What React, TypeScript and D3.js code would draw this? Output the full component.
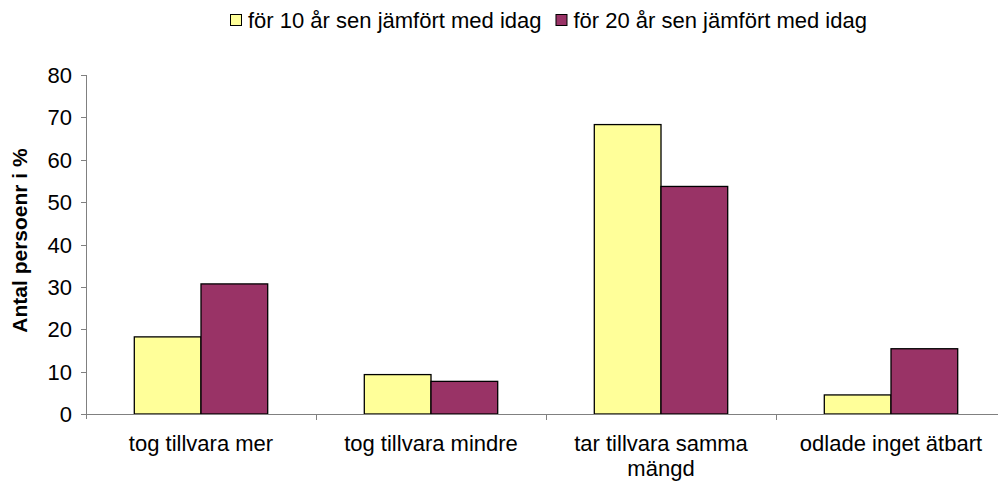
import React, { useEffect, useRef } from 'react';
import * as d3 from 'd3';

const categories = ['tog tillvara mer', 'tog tillvara mindre', 'tar tillvara samma mängd', 'odlade inget ätbart'];
const seriesNames = ['för 10 år sen jämfört med idag', 'för 20 år sen jämfört med idag'];
const tioAr = [18.2, 9.3, 68.3, 4.5];
const tjugoAr = [30.7, 7.7, 53.7, 15.4];
const yTicks = [0, 10, 20, 30, 40, 50, 60, 70, 80];
const colors = ['#FFFF99', '#993366'];

export default function App() {
  const ref = useRef<SVGSVGElement>(null);

  useEffect(() => {
    const svg = d3.select(ref.current);
    svg.selectAll('*').remove();
    const font = 'Liberation Sans, Arial, sans-serif';
    const fs = 22;

    const left = 86, top = 75, bottom = 414, right = 1006;
    const x = d3.scaleBand().domain(categories).range([left, right]).paddingInner(0.42).paddingOuter(0.21);
    const y = d3.scaleLinear().domain([0, 80]).range([bottom, top]);
    const inner = d3.scaleBand().domain(['0', '1']).range([0, x.bandwidth()]);
    const step = (right - left) / categories.length;

    const data = [tioAr, tjugoAr];
    const g = svg.append('g');

    data.forEach((vals, si) => {
      g.selectAll('.s' + si)
        .data(vals)
        .enter().append('rect')
        .attr('x', (d, i) => (x(categories[i]) as number) + (inner(String(si)) as number))
        .attr('y', d => y(d))
        .attr('width', inner.bandwidth())
        .attr('height', d => bottom - y(d))
        .attr('fill', colors[si])
        .attr('stroke', '#000')
        .attr('stroke-width', 1.3);
    });

    // axes
    g.append('line').attr('x1', left).attr('x2', right).attr('y1', bottom + 0.5).attr('y2', bottom + 0.5)
      .attr('stroke', '#808080').attr('stroke-width', 1);
    g.append('line').attr('x1', left + 0.5).attr('x2', left + 0.5).attr('y1', top).attr('y2', bottom + 5)
      .attr('stroke', '#808080').attr('stroke-width', 1);

    yTicks.forEach(t => {
      g.append('line').attr('x1', left - 5).attr('x2', left).attr('y1', Math.round(y(t)) + 0.5).attr('y2', Math.round(y(t)) + 0.5)
        .attr('stroke', '#808080');
      g.append('text').attr('x', left - 14).attr('y', y(t) + 8).attr('text-anchor', 'end')
        .attr('font-family', font).attr('font-size', fs).attr('fill', '#000').text(t);
    });

    categories.forEach((c, i) => {
      const bx = Math.round(left + step * (i + 1)) + 0.5;
      g.append('line').attr('x1', bx).attr('x2', bx).attr('y1', bottom).attr('y2', bottom + 6).attr('stroke', '#808080');
      const cx = left + step * (i + 0.5);
      const lines = c === 'tar tillvara samma mängd' ? ['tar tillvara samma', 'mängd'] : [c];
      lines.forEach((ln, li) => {
        g.append('text').attr('x', cx).attr('y', 451 + li * 25).attr('text-anchor', 'middle')
          .attr('font-family', font).attr('font-size', fs).attr('fill', '#000').text(ln);
      });
    });

    g.append('text').attr('transform', 'translate(27,' + ((top + bottom) / 2 - 4) + ') rotate(-90)')
      .attr('text-anchor', 'middle').attr('font-family', font).attr('font-size', 21).attr('font-weight', 'bold')
      .attr('fill', '#000').text('Antal persoenr i %');

    // legend
    const lg = svg.append('g');
    let lx = 230;
    seriesNames.forEach((s, i) => {
      lg.append('rect').attr('x', lx + 0.5).attr('y', 14.5).attr('width', 11).attr('height', 11)
        .attr('fill', colors[i]).attr('stroke', '#000').attr('stroke-width', 1);
      const t = lg.append('text').attr('x', lx + 18).attr('y', 28).attr('font-family', font).attr('font-size', fs)
        .attr('fill', '#000').text(s);
      const w = (t.node() as SVGTextElement).getComputedTextLength();
      lx += 18 + w + 14;
    });
  }, []);

  return (
    <svg ref={ref} width={998} height={485} style={{ position: 'absolute', left: 0, top: 0, background: '#fff' }} />
  );
}
